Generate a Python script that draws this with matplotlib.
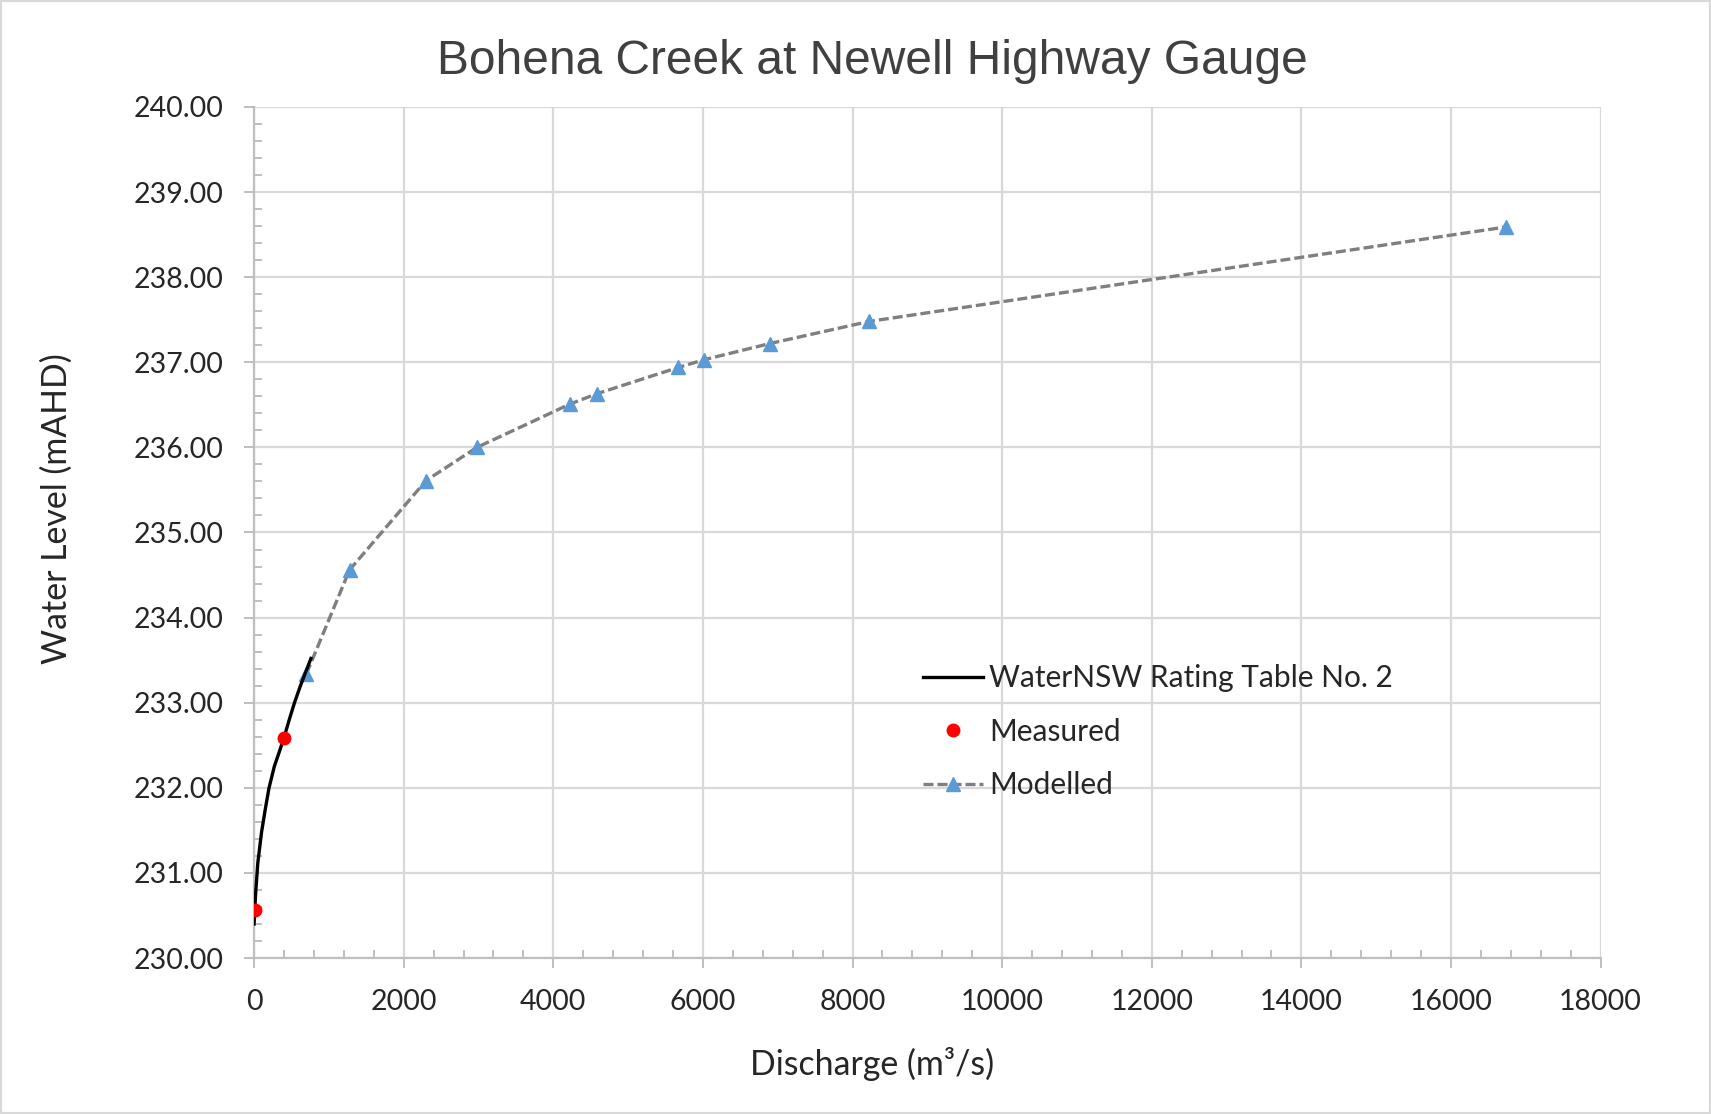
import matplotlib.pyplot as plt
from matplotlib.ticker import MultipleLocator, FormatStrFormatter
from matplotlib.patches import Rectangle

# rating table curve
rating_q = [0, 20, 50, 100, 150, 200, 270, 340, 400, 470, 540, 620, 690, 760]
rating_h = [230.40, 230.75, 231.12, 231.48, 231.75, 232.00, 232.25, 232.43, 232.59,
            232.80, 233.00, 233.20, 233.36, 233.52]

# measured gaugings
meas_q = [9, 395]
meas_h = [230.57, 232.58]

# modelled points
mod_q = [700, 1276, 2299, 2979, 4226, 4581, 5673, 6015, 6893, 8223, 16736]
mod_h = [233.34, 234.56, 235.61, 236.00, 236.51, 236.63, 236.94, 237.03, 237.22, 237.48, 238.59]

plt.rcParams['font.family'] = ['Lato', 'DejaVu Sans']
txt = '#262626'

fig = plt.figure(figsize=(17.11, 11.14), dpi=100)
ax = fig.add_axes([0.1485, 0.140, 0.787, 0.764])

ax.plot(mod_q, mod_h, color='#7f7f7f', lw=2.4, ls=(0, (3, 1.2)), marker='^',
        ms=10, mfc='#5b9bd5', mec='#5b9bd5', label='Modelled', zorder=3)
ax.plot(rating_q, rating_h, color='black', lw=2.4, label='WaterNSW Rating Table No. 2', zorder=4)
ax.plot(meas_q, meas_h, ls='none', marker='o', ms=9, color='#ff0000', label='Measured', zorder=5)

ax.set_xlim(0, 18000)
ax.set_ylim(230, 240)
ax.xaxis.set_major_locator(MultipleLocator(2000))
ax.xaxis.set_minor_locator(MultipleLocator(400))
ax.yaxis.set_major_locator(MultipleLocator(1))
ax.yaxis.set_minor_locator(MultipleLocator(0.2))
ax.yaxis.set_major_formatter(FormatStrFormatter('%.2f'))

ax.grid(True, which='major', color='#d9d9d9', lw=1.6)
ax.set_axisbelow(True)
for s in ['top', 'right']:
    ax.spines[s].set_visible(False)
for s in ['left', 'bottom']:
    ax.spines[s].set_color('#bfbfbf')
    ax.spines[s].set_linewidth(1.6)

ax.tick_params(which='major', direction='out', length=7, width=1.4, color='#bfbfbf',
               labelsize=20.5, labelcolor=txt)
ax.tick_params(axis='y', which='major', pad=15)
ax.tick_params(axis='x', which='major', pad=15)
ax.tick_params(which='minor', direction='in', length=6, width=1.4, color='#bfbfbf')

fig.text(0.5096, 0.0449, 'Discharge (m³/s)', ha='center', va='center',
         fontsize=24.4, color=txt)
fig.text(0.0331, 0.543, 'Water Level (mAHD)', ha='center', va='center', rotation=90,
         fontsize=24.4, color=txt)
fig.text(0.51, 0.945, 'Bohena Creek at Newell Highway Gauge', ha='center', va='center',
         fontsize=34.5, color='#404040', family=['Liberation Sans', 'DejaVu Sans'])

h, l = ax.get_legend_handles_labels()
order = [1, 2, 0]
ax.legend([h[i] for i in order], [l[i] for i in order], loc='center left',
          bbox_to_anchor=(0.497, 0.266), frameon=False, fontsize=21.5,
          borderpad=0, borderaxespad=0,
          handlelength=2.0, handletextpad=0.2, labelspacing=0.86,
          labelcolor=txt)

fig.patches.append(Rectangle((0, 0), 1, 1, transform=fig.transFigure, fill=False,
                             ec='#d9d9d9', lw=3))

fig.savefig('out.png', dpi=100)
